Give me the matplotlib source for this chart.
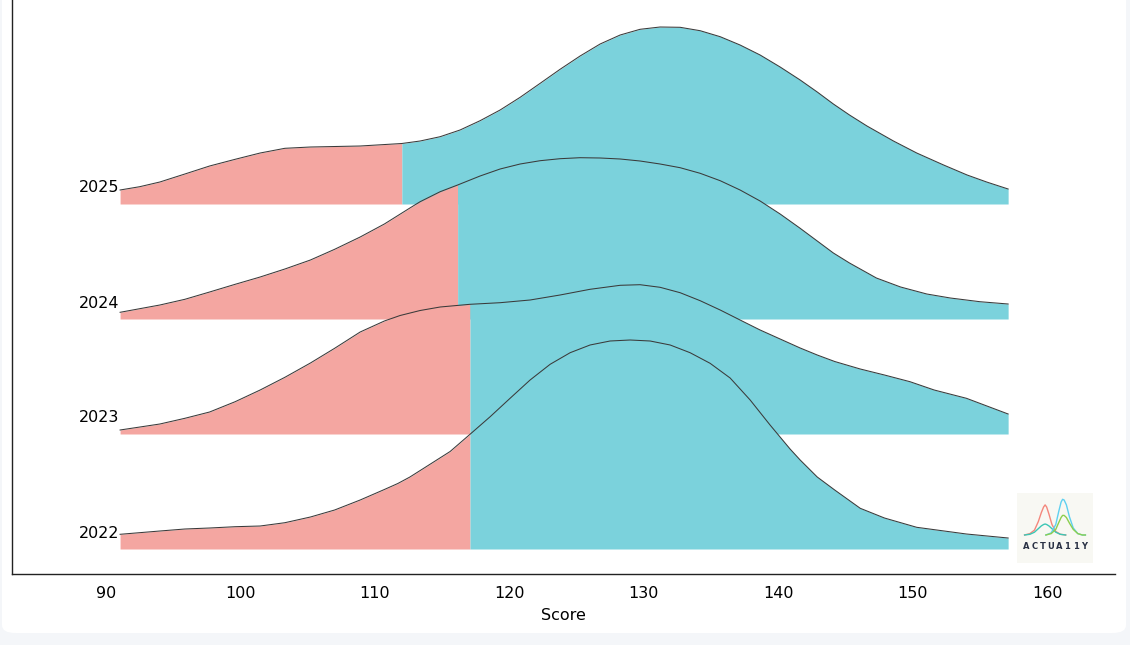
import numpy as np
import matplotlib
matplotlib.use("Agg")
import matplotlib.pyplot as plt
from matplotlib.patches import FancyBboxPatch

# ---------------- data ----------------
years = ["2022", "2023", "2024", "2025"]
thresholds = [117.07, 117.07, 116.15, 112.0]

x_2025 = [91.04, 92.5, 94.0, 95.86, 97.7, 99.6, 101.46, 103.3, 105.2, 108.9, 112.0,
          113.36, 114.85, 116.33, 117.82, 119.31, 120.8, 122.29, 123.77, 125.26,
          126.75, 128.24, 129.72, 131.21, 132.7, 134.19, 135.68, 137.16, 138.65,
          140.14, 141.63, 142.9, 144.1, 145.3, 146.6, 148.57, 150.3, 152.3, 154.05, 155.5, 157.1]
d_2025 = [14, 17.3, 22, 30, 38, 44.7, 51, 55.7, 57, 58, 60.5,
          63, 67.3, 74, 83.3, 94, 106.7, 120.7, 134.7, 148,
          160, 169, 174.7, 177, 176.7, 173.3, 167.3, 159, 149,
          137, 124, 112, 100, 89, 78, 63, 51, 39, 29, 22, 15]

x_2024 = [91.04, 94.0, 95.86, 97.7, 99.6, 101.46, 103.3, 105.2, 107.0, 108.9, 110.7,
          112.6, 113.36, 114.85, 116.15, 117.82, 119.31, 120.8, 122.29, 123.77, 125.26,
          126.75, 128.24, 129.72, 131.21, 132.7, 134.19, 135.68, 137.16, 138.65, 140.14,
          141.6, 142.9, 144.1, 145.3, 147.3, 149.1, 151.05, 152.8, 155.0, 157.1]
d_2024 = [6.7, 14, 19.7, 27, 34.7, 42, 50, 59, 69.7, 82, 95,
          111, 117.3, 127.3, 134, 143, 150, 155, 158.3, 160.3, 161.3,
          161, 160, 158, 155, 151.3, 145.7, 138.3, 129, 118, 105,
          91, 78, 66, 56, 41, 32, 25, 21, 17.3, 15]

x_2023 = [91.04, 94.0, 95.86, 97.7, 99.6, 101.46, 103.3, 105.2, 107.0, 108.9, 110.7,
          111.87, 113.36, 114.85, 117.07, 119.31, 121.54, 123.77, 126.0, 128.24, 129.72,
          131.21, 132.7, 134.19, 135.68, 137.16, 138.65, 140.14, 141.63, 142.9,
          144.2, 146.1, 147.9, 149.8, 151.6, 154.0, 157.1]
d_2023 = [4, 10, 15.7, 22, 32.3, 44, 56.7, 71, 85.7, 102, 113,
          118.5, 123.5, 127, 129.7, 131.3, 134, 139, 144.7, 148.7, 149.3,
          146.7, 141.3, 133.3, 124, 114, 104, 95, 86, 79,
          72.5, 65, 59, 52.3, 44, 35.7, 20]

x_2022 = [91.04, 94.0, 95.86, 97.7, 99.6, 101.46, 103.3, 105.2, 107.0, 108.9, 110.7,
          111.7, 112.6, 113.6, 115.59, 117.07, 118.57, 120.05, 121.54, 123.03, 124.52, 126.0,
          127.49, 128.98, 130.47, 131.96, 133.44, 134.93, 136.42, 137.91, 139.39, 140.88,
          141.63, 142.9, 144.2, 146.1, 147.9, 150.3, 154.0, 157.1]
d_2022 = [14.7, 18, 20, 21, 22.3, 23, 26.3, 32, 39, 49, 59.5,
          65.5, 72, 80.5, 97.5, 114.7, 132.3, 150.7, 169, 184.7, 196.3, 204,
          208, 209, 208, 204, 196.3, 185.7, 171, 149, 124, 100,
          89, 72, 59, 40.7, 31, 21.7, 15, 11]

xs = [x_2022, x_2023, x_2024, x_2025]
ds = [d_2022, d_2023, d_2024, d_2025]

xticks = [90, 100, 110, 120, 130, 140, 150, 160]
xlabel = "Score"
logo_text = "ACTUA11Y"

# logo decoration points (axes-fraction coordinates inside the logo box)
logo_x = [0.10, 0.17, 0.23, 0.28, 0.32, 0.35, 0.37, 0.39, 0.42, 0.46, 0.51, 0.57, 0.64]
logo_red = [0.40, 0.42, 0.47, 0.59, 0.72, 0.80, 0.83, 0.80, 0.70, 0.55, 0.45, 0.41, 0.40]
logo_teal = [0.40, 0.41, 0.44, 0.49, 0.53, 0.55, 0.557, 0.55, 0.53, 0.49, 0.44, 0.41, 0.40]
logo_x2 = [0.38, 0.45, 0.51, 0.55, 0.58, 0.60, 0.62, 0.65, 0.69, 0.74, 0.80, 0.86, 0.90]
logo_cyan = [0.40, 0.43, 0.55, 0.74, 0.87, 0.91, 0.90, 0.83, 0.66, 0.50, 0.42, 0.40, 0.40]
logo_green = [0.40, 0.42, 0.48, 0.58, 0.65, 0.68, 0.68, 0.65, 0.57, 0.48, 0.42, 0.40, 0.40]

# ---------------- style ----------------
PINK = "#F4A6A1"
CYAN = "#7BD2DC"
EDGE = "#3a3a3a"
SCALE = 1 / 115.0

W, H = 1130, 645
fig = plt.figure(figsize=(W / 100, H / 100), dpi=100, facecolor="#f4f6f9")
card = FancyBboxPatch((2 / W, 12 / H), 1124 / W, 1.2,
                      boxstyle="round,pad=0,rounding_size=0.012",
                      transform=fig.transFigure, facecolor="white",
                      edgecolor="none", zorder=-10)
fig.patches.append(card)

ax = fig.add_axes([12 / W, 71 / H, 1103 / W, 574 / H])
ax.set_facecolor("none")
ax.set_zorder(5)

for i in reversed(range(len(years))):
    x = np.array(xs[i])
    y = np.array(ds[i]) * SCALE
    base = i
    thr = thresholds[i]
    z = 10 + (len(years) - i)
    ax.fill_between(x, base, base + y, where=x <= thr + 1e-9, color=PINK,
                    linewidth=0, zorder=z)
    ax.fill_between(x, base, base + y, where=x >= thr - 1e-9, color=CYAN,
                    linewidth=0, zorder=z)
    ax.plot(x, base + y, color=EDGE, lw=0.75, zorder=z + 0.5,
            solid_joinstyle="round")
    ax.text(x[0] - 0.05, base + 16 * SCALE, years[i], ha="right", va="center",
            fontsize=11.5, color="black", zorder=30)

ax.set_xlim(83.0, 165.05)
ax.set_ylim(-25 * SCALE, 549 * SCALE)
ax.set_xticks(xticks)
ax.set_xticklabels([str(t) for t in xticks], fontsize=11.5)
ax.set_yticks([])
ax.tick_params(axis="x", length=0, pad=8.5)
ax.set_xlabel(xlabel, fontsize=11.5, labelpad=5)
for s in ["top", "right"]:
    ax.spines[s].set_visible(False)
for s in ["left", "bottom"]:
    ax.spines[s].set_color("#222222")
    ax.spines[s].set_linewidth(1.0)

# ---------------- logo ----------------
lax = fig.add_axes([1017 / W, (H - 563) / H, 76 / W, 70 / H])
lax.set_zorder(6)
lax.set_facecolor("#f8f8f3")
lax.set_xlim(0, 1)
lax.set_ylim(0, 1)
for s in lax.spines.values():
    s.set_visible(False)
lax.set_xticks([])
lax.set_yticks([])
lax.plot(logo_x, logo_red, color="#f4877c", lw=1.0)
lax.plot(logo_x, logo_teal, color="#3cc7b5", lw=1.0)
lax.plot(logo_x2, logo_cyan, color="#5fd0f0", lw=1.0)
lax.plot(logo_x2, logo_green, color="#8ccf4f", lw=1.0)
n = len(logo_text)
for k, ch in enumerate(logo_text):
    lax.text(0.12 + k * (0.76 / (n - 1)), 0.24, ch, ha="center", va="center",
             fontsize=6.0, fontweight="bold", color="#2a3245")

fig.savefig("out.png", dpi=100, facecolor=fig.get_facecolor())
